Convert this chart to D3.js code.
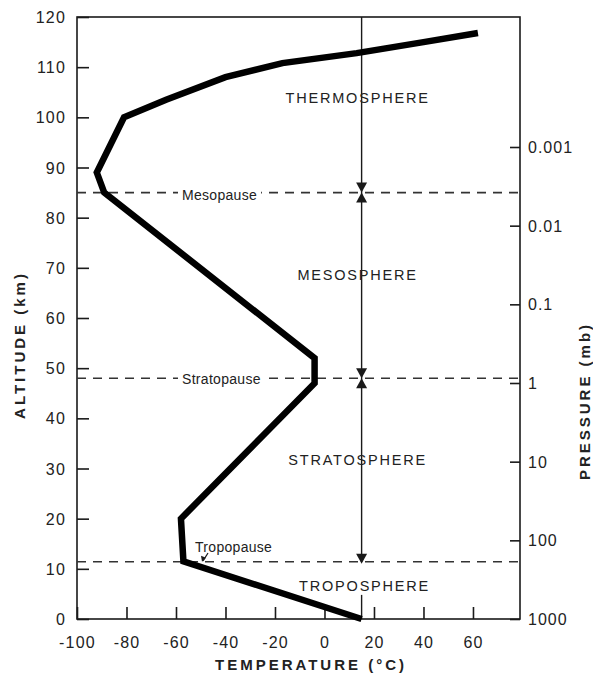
<!DOCTYPE html>
<html><head><meta charset="utf-8">
<script src="https://cdn.jsdelivr.net/npm/d3@7"></script>
<style>
html,body{margin:0;padding:0;background:#fff;}
text{font-family:"Liberation Sans",Arial,sans-serif;fill:#222;}
</style></head>
<body><svg id="c" width="593" height="675"></svg>
<script>
// ---- data ----
const altTicks = [0,10,20,30,40,50,60,70,80,90,100,110,120];
const tempTicks = [-100,-80,-60,-40,-20,0,20,40,60];
const pressureTicks = [1000,100,10,1,0.1,0.01,0.001];
const pressureLabels = ["1000","100","10","1","0.1","0.01","0.001"];
const profileTemp = [15,-57,-58,-4,-4,-89,-92,-81,-64,-40,-17,13,40,62];
const profileAlt  = [0,11.5,20,47,52,85,89,100,103.5,108,110.8,112.8,115,116.8];
const pauseNames = ["Tropopause","Stratopause","Mesopause"];
const pauseAlt = [11.4,48,85];
const layerNames = ["TROPOSPHERE","STRATOSPHERE","MESOSPHERE","THERMOSPHERE"];
const layerLabelAlt = [6.6,31.7,68.6,103.8];
const surfaceTemp = 15;

// ---- layout ----
const svg = d3.select("#c");
const L=77, R=520, T=17, B=619;
const x = d3.scaleLinear().domain([-100,79]).range([L,R]);
const y = d3.scaleLinear().domain([0,120]).range([B,T]);
const yp = d3.scaleLog().domain([1000,0.001]).range([B,147]);

const ink="#1a1a1a";
// frame
svg.append("rect").attr("x",L).attr("y",T).attr("width",R-L).attr("height",B-T)
  .attr("fill","none").attr("stroke",ink).attr("stroke-width",1.6);

// left axis
const gy = svg.append("g").attr("transform",`translate(${L},0)`)
  .call(d3.axisRight(y).tickValues(altTicks).tickSize(12).tickFormat(d3.format("d")));
gy.select(".domain").remove();
gy.selectAll("line").attr("stroke",ink).attr("stroke-width",1.6);
gy.selectAll("text").attr("x",-11).attr("text-anchor","end")
  .style("font-size","16px").style("letter-spacing","1.2px").attr("dy","0.35em");

// bottom axis
const gx = svg.append("g").attr("transform",`translate(0,${B})`)
  .call(d3.axisTop(x).tickValues(tempTicks).tickSize(12).tickFormat(d=>d<0?"-"+Math.abs(d):d));
gx.select(".domain").remove();
gx.selectAll("line").attr("stroke",ink).attr("stroke-width",1.6);
gx.selectAll("text").attr("y",18).attr("dy","0.71em").attr("text-anchor","middle")
  .style("font-size","16px").style("letter-spacing","1.2px");

// right axis (pressure)
const gr = svg.append("g").attr("transform",`translate(${R},0)`)
  .call(d3.axisLeft(yp).tickValues(pressureTicks).tickSize(10)
    .tickFormat((d,i)=>pressureLabels[i]));
gr.select(".domain").remove();
gr.selectAll("line").attr("stroke",ink).attr("stroke-width",1.6);
gr.selectAll("text").attr("x",8).attr("text-anchor","start")
  .style("font-size","16px").style("letter-spacing","1px").attr("dy","0.35em");

// axis titles
svg.append("text").attr("transform",`translate(25,345) rotate(-90)`)
  .attr("text-anchor","middle").style("font-size","15px").style("font-weight","bold")
  .style("letter-spacing","3px").text("ALTITUDE (km)");
svg.append("text").attr("transform",`translate(590,401) rotate(-90)`)
  .attr("text-anchor","middle").style("font-size","15px").style("font-weight","bold")
  .style("letter-spacing","3px").text("PRESSURE (mb)");
svg.append("text").attr("x",311).attr("y",670)
  .attr("text-anchor","middle").style("font-size","15px").style("font-weight","bold")
  .style("letter-spacing","3px").text("TEMPERATURE (°C)");

// pause dashed lines
svg.selectAll("line.pause").data(pauseAlt).join("line").attr("class","pause")
  .attr("x1",L).attr("x2",R).attr("y1",d=>y(d)).attr("y2",d=>y(d))
  .attr("stroke","#333").attr("stroke-width",1.6).attr("stroke-dasharray","9,7");

// vertical arrow line at surface temp
const xs = x(surfaceTemp);
svg.append("line").attr("x1",xs).attr("x2",xs).attr("y1",T).attr("y2",y(pauseAlt[0]))
  .attr("stroke",ink).attr("stroke-width",1.4);
svg.append("line").attr("x1",xs).attr("x2",xs).attr("y1",y(layerLabelAlt[0])+9).attr("y2",B)
  .attr("stroke",ink).attr("stroke-width",1.4);
function tri(yTip, dir){ // dir=+1 pointing down, -1 pointing up
  const h=10, w=5.5;
  return `M${xs},${yTip} L${xs-w},${yTip-dir*h} L${xs+w},${yTip-dir*h} Z`;
}
[pauseAlt[2],pauseAlt[1]].forEach(a=>{
  svg.append("path").attr("d",tri(y(a),1)).attr("fill",ink);
  svg.append("path").attr("d",tri(y(a),-1)).attr("fill",ink);
});
svg.append("path").attr("d",tri(y(pauseAlt[0])+2,1)).attr("fill",ink);

// profile
const line = d3.line().x((d,i)=>x(profileTemp[i])).y((d,i)=>y(profileAlt[i])).curve(d3.curveLinear);
svg.append("path").datum(profileTemp).attr("d",line)
  .attr("fill","none").attr("stroke","#000").attr("stroke-width",6.5)
  .attr("stroke-linejoin","miter").attr("stroke-linecap","butt");

// pause labels with white background
const pauseLabelX = [195,182,182];
const pauseLabelDy = [-15,1,3];
pauseNames.forEach((n,i)=>{
  const t = svg.append("text").attr("x",pauseLabelX[i]).attr("y",y(pauseAlt[i])+pauseLabelDy[i])
    .attr("dy","0.35em").style("font-size","14px").style("letter-spacing","0.3px").text(n);
  const bb = t.node().getBBox();
  if(i>0){
    svg.insert("rect",()=>t.node()).attr("x",bb.x-4).attr("y",bb.y+1).attr("width",bb.width+8)
      .attr("height",bb.height-2).attr("fill","#fff");
  }
});
// tropopause small pointer
svg.append("line").attr("x1",208).attr("y1",553).attr("x2",203).attr("y2",y(pauseAlt[0])-1)
  .attr("stroke",ink).attr("stroke-width",1.2);
svg.append("path").attr("d",`M202,${y(pauseAlt[0])} l-1,-6 l5,2 Z`).attr("fill",ink);

// layer names
layerNames.forEach((n,i)=>{
  svg.append("text").attr("x",xs+(i===0?3:-4)).attr("y",y(layerLabelAlt[i])).attr("dy","0.35em")
    .attr("text-anchor","middle").style("font-size","14.5px").style("letter-spacing","1.8px").text(n);
});
</script></body></html>
